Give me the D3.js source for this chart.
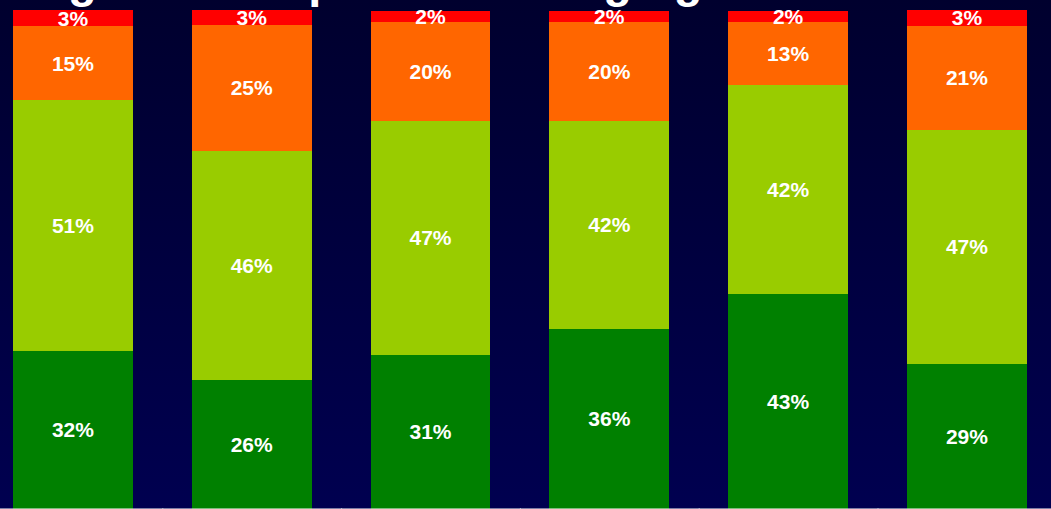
<!DOCTYPE html>
<html>
<head>
<meta charset="utf-8">
<script src="https://cdn.jsdelivr.net/npm/d3@7"></script>
<style>
  html, body { margin: 0; padding: 0; background: #000030; }
  svg { display: block; }
</style>
</head>
<body>
<svg id="chart" width="1051" height="509"></svg>
<script>
// Categories along the x axis
const categories = ["G1", "G2", "G3", "G4", "G5", "G6"];

// Stack order, bottom to top
const seriesNames = ["Level 4", "Level 3", "Level 2", "Level 1"];

// Share (%) of each level per category
const level4 = [31.9, 26.1, 31.1, 36.4, 43.4, 29.3];
const level3 = [50.7, 46.3, 47.3, 42.0, 42.2, 47.3];
const level2 = [14.9, 25.3, 20.0, 20.0, 12.7, 21.0];
const level1 = [3.3, 3.1, 2.2, 2.2, 2.3, 3.2];

const seriesColors = ["#008000", "#99CC00", "#FF6600", "#FF0000"];

const titleText = "Agreement: plan for changing the timetable";

const W = 1051, H = 509;
const svg = d3.select("#chart");

// Background: deep navy vertical gradient
const defs = svg.append("defs");
const grad = defs.append("linearGradient")
  .attr("id", "bg").attr("x1", 0).attr("y1", 0).attr("x2", 0).attr("y2", 1);
grad.append("stop").attr("offset", "0%").attr("stop-color", "rgb(0,0,46)");
grad.append("stop").attr("offset", "100%").attr("stop-color", "rgb(0,0,80)");
svg.append("rect").attr("width", W).attr("height", H).attr("fill", "url(#bg)");

// Build rows for stacking
const rows = categories.map((c, i) => ({
  category: c,
  "Level 4": level4[i],
  "Level 3": level3[i],
  "Level 2": level2[i],
  "Level 1": level1[i]
}));
const stacked = d3.stack().keys(seriesNames)(rows);

// Scales
const plotLeft = -16.5, plotRight = 1056.3;
const x = d3.scaleBand()
  .domain(categories)
  .range([plotLeft, plotRight])
  .paddingInner(0.3289)
  .paddingOuter(0.3289 / 2);

const y = d3.scaleLinear().domain([0, 100]).range([509, 509 - 495]);

// Bars
const layers = svg.append("g")
  .attr("shape-rendering", "crispEdges")
  .selectAll("g")
  .data(stacked)
  .join("g")
  .attr("fill", (d, i) => seriesColors[i]);

layers.selectAll("rect")
  .data(d => d)
  .join("rect")
  .attr("x", d => x(d.data.category))
  .attr("width", x.bandwidth())
  .attr("y", d => y(d[1]))
  .attr("height", d => y(d[0]) - y(d[1]));

// Value labels centered in each segment
const labels = svg.append("g")
  .attr("font-family", "'Liberation Sans', Arial, sans-serif")
  .attr("font-weight", "bold")
  .attr("font-size", 21)
  .attr("fill", "#ffffff")
  .attr("text-anchor", "middle");

stacked.forEach(layer => {
  labels.selectAll(null)
    .data(layer)
    .join("text")
    .attr("x", d => x(d.data.category) + x.bandwidth() / 2)
    .attr("y", d => (y(d[0]) + y(d[1])) / 2)
    .attr("dy", "0.35em")
    .text(d => Math.round(d[1] - d[0]) + "%");
});

// Category axis: ticks sit on the boundaries between categories
const xb = d3.scaleLinear().domain([0, categories.length]).range([plotLeft, plotRight]);
const axis = svg.append("g")
  .attr("transform", "translate(0,508.5)")
  .call(d3.axisBottom(xb)
    .tickValues(d3.range(1, categories.length))
    .tickFormat("")
    .tickSizeOuter(0)
    .tickSizeInner(6));
axis.selectAll("path, line").attr("stroke", "#ffffff");

// Chart title (sits mostly above the visible area)
svg.append("text")
  .attr("x", 34)
  .attr("y", -3.5)
  .attr("font-family", "'Liberation Sans', Arial, sans-serif")
  .attr("font-weight", "bold")
  .attr("font-size", 47)
  .attr("fill", "#ffffff")
  .text(titleText);
</script>
</body>
</html>
